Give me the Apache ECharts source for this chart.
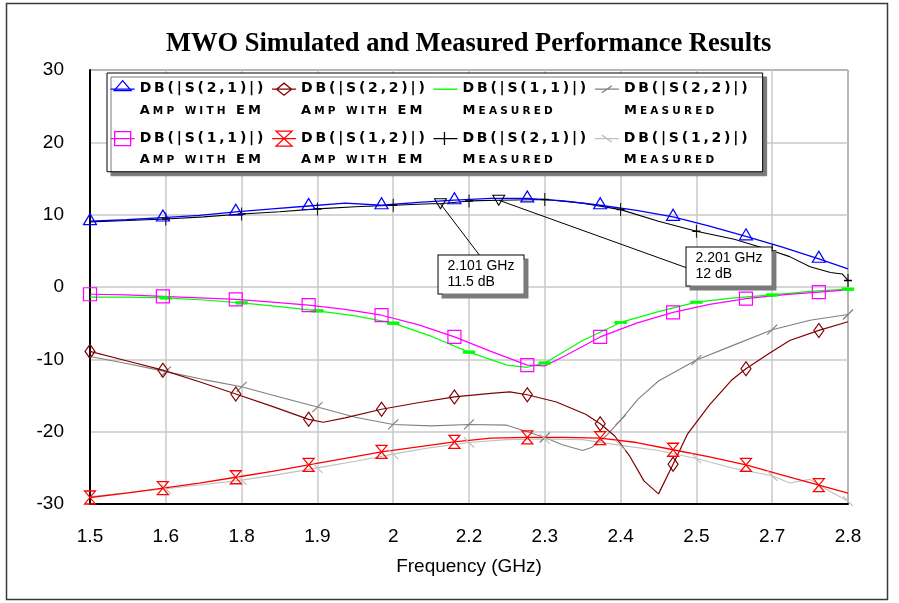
<!DOCTYPE html>
<html><head><meta charset="utf-8">
<script src="https://cdn.jsdelivr.net/npm/echarts@6/dist/echarts.min.js"></script>
<style>html,body{margin:0;padding:0;background:#fff}#c{width:899px;height:603px}</style>
</head><body><div id="c"></div>
<script>
// ---------- data ----------
const xTickLabels = ['1.5','1.6','1.8','1.9','2','2.2','2.3','2.4','2.5','2.7','2.8'];
const simMarkerFreqs = [1.5,1.625,1.75,1.875,2.0,2.125,2.25,2.375,2.5,2.625,2.75];
const measMarkerFreqs = [1.63,1.76,1.89,2.02,2.15,2.28,2.41,2.54,2.67,2.8];

const fSim = [1.5,1.5625,1.625,1.6875,1.75,1.8125,1.875,1.9375,2.0,2.0625,2.125,2.1875,2.25,2.3125,2.375,2.4375,2.5,2.5625,2.625,2.6875,2.75,2.8];
const s21Sim = [9.1,9.3,9.6,9.9,10.4,10.8,11.2,11.6,11.3,11.7,12.0,12.25,12.25,11.9,11.3,10.6,9.7,8.4,7.0,5.5,3.9,2.5];
const s12Sim = [-29.1,-28.5,-27.8,-27.1,-26.3,-25.5,-24.6,-23.7,-22.8,-22.1,-21.4,-20.9,-20.8,-20.8,-20.9,-21.5,-22.5,-23.5,-24.6,-26.0,-27.4,-28.5];

const fS11Sim = [1.5,1.5625,1.625,1.6875,1.75,1.8125,1.875,1.9375,2.0,2.0625,2.125,2.1875,2.25,2.28,2.3125,2.375,2.4375,2.5,2.5625,2.625,2.6875,2.75,2.8];
const s11Sim = [-1.0,-1.1,-1.3,-1.5,-1.7,-2.1,-2.5,-3.1,-3.9,-5.2,-6.9,-8.9,-10.8,-10.9,-9.6,-6.9,-5.0,-3.5,-2.4,-1.6,-1.1,-0.7,-0.4];

const fS22Sim = [1.5,1.5625,1.625,1.6875,1.75,1.8125,1.875,1.9,1.9375,2.0,2.0625,2.125,2.1875,2.22,2.25,2.3,2.35,2.375,2.4,2.425,2.45,2.475,2.5,2.525,2.5625,2.6,2.625,2.6625,2.7,2.75,2.8];
const s22Sim = [-8.9,-10.2,-11.5,-13.1,-14.8,-16.5,-18.3,-18.7,-18.1,-16.9,-16.0,-15.2,-14.7,-14.5,-14.9,-15.9,-17.6,-18.9,-20.6,-23.3,-26.8,-28.6,-24.5,-20.3,-16.3,-12.9,-11.3,-9.3,-7.4,-6.0,-4.8];

const fS21Meas = [1.5,1.565,1.63,1.695,1.76,1.825,1.89,1.955,2.02,2.085,2.101,2.15,2.201,2.28,2.345,2.41,2.475,2.54,2.605,2.67,2.70,2.735,2.77,2.79,2.8];
const s21Meas = [9.0,9.2,9.4,9.7,10.1,10.4,10.8,11.1,11.3,11.5,11.5,11.9,12.0,12.1,11.6,10.7,9.1,7.7,6.6,5.0,4.2,2.8,2.0,1.8,0.9];

const fS11Meas = [1.5,1.565,1.63,1.695,1.76,1.825,1.89,1.955,2.02,2.085,2.15,2.215,2.25,2.28,2.345,2.41,2.475,2.54,2.605,2.67,2.735,2.8];
const s11Meas = [-1.4,-1.4,-1.5,-1.8,-2.2,-2.7,-3.3,-4.0,-5.0,-6.8,-9.0,-10.8,-11.1,-10.5,-7.4,-4.9,-3.4,-2.1,-1.5,-1.1,-0.6,-0.3];

const fS22Meas = [1.5,1.565,1.63,1.695,1.76,1.825,1.89,1.955,2.02,2.085,2.15,2.215,2.28,2.31,2.345,2.36,2.385,2.41,2.44,2.475,2.54,2.605,2.67,2.735,2.8];
const s22Meas = [-9.6,-10.6,-11.7,-12.8,-13.8,-15.2,-16.6,-18.0,-19.0,-19.2,-19.0,-19.1,-20.8,-21.8,-22.6,-22.2,-20.6,-18.4,-15.5,-13.0,-10.1,-8.0,-5.9,-4.6,-3.8];

const fS12Meas = [1.5,1.565,1.63,1.695,1.76,1.825,1.89,1.955,2.02,2.085,2.15,2.215,2.28,2.345,2.41,2.475,2.54,2.605,2.67,2.70,2.735,2.77,2.8];
const s12Meas = [-29.0,-28.4,-27.9,-27.3,-26.7,-25.9,-25.0,-24.1,-23.1,-22.2,-21.5,-21.1,-21.0,-21.1,-21.9,-22.6,-23.7,-25.1,-26.1,-27.1,-26.6,-28.3,-29.6];

const markerFreqs = [2.101, 2.201];
const markerValues = [11.5, 12];
const markerLabels = ['2.101 GHz\n11.5 dB', '2.201 GHz\n12 dB'];

// ---------- helpers ----------
function build(fs, vs, marks) {
  return fs.map((f, i) => {
    const isM = marks.some(m => Math.abs(m - f) < 1e-6);
    return isM ? {value: [f, vs[i]]} : {value: [f, vs[i]], symbol: 'none'};
  });
}
const box = (p) => 'path://M0,0L0,0' + p + 'M24,40L24,40';
const LN = 'M0,11.5L24,11.5';

const seriesDefs = [
  {name:'S21m', l1:'DB(|S(2,1)|)', l2:'Measured', f:fS21Meas, v:s21Meas, marks:measMarkerFreqs, color:'#000000',
   symbol:'path://M5,0L5,14M0,7L10,7', size:[8,13], offset:[0,0], lw:1.1, fill:'transparent', icon: box(LN+'M11,5L11,18')},
  {name:'S22m', l1:'DB(|S(2,2)|)', l2:'Measured', f:fS22Meas, v:s22Meas, marks:measMarkerFreqs, color:'#808080',
   symbol:'path://M0,10L10,0', size:[10,10], offset:[0,0], lw:1.1, fill:'transparent', icon: box(LN+'M7,15L17,8')},
  {name:'S12m', l1:'DB(|S(1,2)|)', l2:'Measured', f:fS12Meas, v:s12Meas, marks:measMarkerFreqs, color:'#c0c0c0',
   symbol:'path://M0,0L10,10', size:[10,10], offset:[0,0], lw:1.1, fill:'transparent', icon: box(LN+'M7,8L17,15')},
  {name:'S11m', l1:'DB(|S(1,1)|)', l2:'Measured', f:fS11Meas, v:s11Meas, marks:measMarkerFreqs, color:'#00ff00',
   symbol:'path://M0,4L10,4L10,6L0,6Z', size:[10,2.5], offset:[0,0], lw:1.2, fill:'#00ff00', icon: box(LN)},
  {name:'S22s', l1:'DB(|S(2,2)|)', l2:'Amp with EM', f:fS22Sim, v:s22Sim, marks:simMarkerFreqs, color:'#800000',
   symbol:'path://M5,0L10,7L5,14L0,7Z', size:[10,14], offset:[0,0], lw:1.2, fill:'transparent', icon: box(LN+'M4.5,11.5L12,5.5L19.5,11.5L12,17.5Z')},
  {name:'S12s', l1:'DB(|S(1,2)|)', l2:'Amp with EM', f:fSim, v:s12Sim, marks:simMarkerFreqs, color:'#ff0000',
   symbol:'path://M0,0L10,0L0,13L10,13Z', size:[11,13], offset:[0,0], lw:1.3, fill:'transparent', icon: box(LN+'M4,4L20,4L4,19L20,19Z')},
  {name:'S11s', l1:'DB(|S(1,1)|)', l2:'Amp with EM', f:fS11Sim, v:s11Sim, marks:simMarkerFreqs, color:'#ff00ff',
   symbol:'path://M0,0L12,0L12,12L0,12Z', size:[13,13], offset:[0,0], lw:1.2, fill:'transparent', icon: box(LN+'M4,4.5L20,4.5L20,18.5L4,18.5Z')},
  {name:'S21s', l1:'DB(|S(2,1)|)', l2:'Amp with EM', f:fSim, v:s21Sim, marks:simMarkerFreqs, color:'#0000ff',
   symbol:'path://M6,0L12,10L0,10Z', size:[13,11], offset:[0,-2], lw:1.3, fill:'transparent', icon: box(LN+'M3.5,13L12,3L20.5,13Z')}
];
const legendOrder = ['S21s','S22s','S11m','S22m','S11s','S12s','S21m','S12m'];
const byName = {}; seriesDefs.forEach(d => byName[d.name] = d);

function spaced(s, sep) { return Array.from(s).join(sep); }
function smallCaps(str) {
  return str.split(' ').map(w => Array.from(w).map(ch => {
    const big = ch === ch.toUpperCase();
    return '{' + (big ? 'b' : 's') + '|' + ch.toUpperCase() + '}';
  }).join('{s|\u2009\u200A}')).join('{s|\u2002\u2002}');
}

const series = seriesDefs.map(d => {
  const s = {
    name: d.name, type: 'line', data: build(d.f, d.v, d.marks),
    symbol: d.symbol, symbolSize: d.size, symbolOffset: d.offset, showAllSymbol: true,
    lineStyle: {color: d.color, width: d.lw},
    itemStyle: {color: d.fill, borderColor: d.color, borderWidth: 1.2},
    emphasis: {disabled: true}, silent: true, animation: false
  };
  if (d.name === 'S21m') {
    s.markLine = {
      silent: true, symbol: ['none','none'], animation: false,
      lineStyle: {color: '#000', width: 1, type: 'solid'}, label: {show: false},
      data: [
        [{coord: [markerFreqs[0], markerValues[0]]}, {coord: [2.169, 4.29]}],
        [{coord: [markerFreqs[1], markerValues[1]]}, {coord: [2.524, 2.63]}]
      ]
    };
    const boxLabel = {
      show: true, position: [0, 0], color: '#000', fontSize: 14, fontFamily: 'Liberation Sans',
      lineHeight: 16, backgroundColor: '#fff', borderColor: '#000', borderWidth: 1,
      padding: [3, 9, 3, 9], shadowColor: '#7a7a7a', shadowOffsetX: 4, shadowOffsetY: 4, shadowBlur: 0
    };
    s.markPoint = {
      silent: true, animation: false,
      data: [
        {coord: [markerFreqs[0], markerValues[0]], symbol: 'path://M0,0L10,0L5,9Z', symbolSize: [12, 10],
         itemStyle: {color: 'transparent', borderColor: '#000', borderWidth: 1}, label: {show: false}},
        {coord: [markerFreqs[1], markerValues[1]], symbol: 'path://M0,0L10,0L5,9Z', symbolSize: [12, 10],
         itemStyle: {color: 'transparent', borderColor: '#000', borderWidth: 1}, label: {show: false}},
        {coord: [2.0986, 4.29], symbol: 'circle', symbolSize: 1, itemStyle: {color: 'transparent', borderWidth: 0},
         label: Object.assign({formatter: markerLabels[0]}, boxLabel)},
        {coord: [2.5239, 5.39], symbol: 'circle', symbolSize: 1, itemStyle: {color: 'transparent', borderWidth: 0},
         label: Object.assign({formatter: markerLabels[1]}, boxLabel)}
      ]
    };
  }
  return s;
});

const legendData = legendOrder.map(n => {
  const d = byName[n];
  return {name: n, icon: d.icon,
    itemStyle: {color: 'transparent', borderColor: d.color, borderWidth: d.name === 'S11m' ? 1.4 : 1.3},
    lineStyle: {color: d.color, width: 1.3}};
});

const lblFont = 'DejaVu Sans';
const option = {
  animation: false,
  backgroundColor: '#fff',
  title: {
    text: 'MWO Simulated and Measured Performance Results',
    left: 161, top: 26,
    textStyle: {fontFamily: 'Liberation Serif', fontWeight: 'bold', fontSize: 26.5, color: '#000'}
  },
  grid: {left: 90, right: 51, top: 70, bottom: 99, show: true, borderColor: '#000', borderWidth: 1, backgroundColor: '#fff'},
  xAxis: {
    type: 'value', min: 1.5, max: 2.8, interval: 0.13,
    axisLine: {show: true, onZero: false, lineStyle: {color: '#000', width: 2}},
    axisTick: {show: false},
    splitLine: {show: true, lineStyle: {color: '#c8c8c8', width: 1.5}},
    axisLabel: {formatter: (v, i) => xTickLabels[i], fontSize: 19, color: '#000', margin: 23, fontFamily: 'Liberation Sans'},
    name: 'Frequency (GHz)', nameLocation: 'middle', nameGap: 53,
    nameTextStyle: {fontSize: 19, color: '#000', fontFamily: 'Liberation Sans'}
  },
  yAxis: {
    type: 'value', min: -30, max: 30, interval: 10,
    axisLine: {show: true, onZero: false, lineStyle: {color: '#000', width: 2}},
    axisTick: {show: false},
    splitLine: {show: true, lineStyle: {color: '#c8c8c8', width: 1.5}},
    axisLabel: {fontSize: 19, color: '#000', margin: 26, fontFamily: 'Liberation Sans'}
  },
  legend: {
    data: legendData, selectedMode: false,
    left: 107, top: 73, width: 700, orient: 'horizontal',
    itemWidth: 24, itemHeight: 40, itemGap: 8,
    padding: [4, 15, 4, 3],
    backgroundColor: '#fff', borderColor: '#000', borderWidth: 1,
    shadowColor: '#7a7a7a', shadowOffsetX: 4, shadowOffsetY: 4, shadowBlur: 0,
    formatter: n => {
      const d = byName[n];
      return '{t|' + spaced(d.l1, '\u2009') + '}\n' + smallCaps(d.l2);
    },
    textStyle: {
      width: 128, color: '#000',
      rich: {
        t: {fontSize: 14, fontWeight: 'bold', fontFamily: lblFont, lineHeight: 20, color: '#000'},
        b: {fontSize: 13, fontWeight: 'bold', fontFamily: lblFont, lineHeight: 18, verticalAlign: 'bottom', color: '#000'},
        s: {fontSize: 10.5, fontWeight: 'bold', fontFamily: lblFont, lineHeight: 18, verticalAlign: 'bottom', color: '#000'}
      }
    }
  },
  graphic: [{
    type: 'rect', silent: true, z: 100,
    shape: {x: 6.5, y: 3.5, width: 881, height: 596},
    style: {fill: 'none', stroke: '#3a3a3a', lineWidth: 1.5}
  }],
  series: series
};
const chart = echarts.init(document.getElementById('c'), null, {renderer: 'canvas'});
chart.setOption(option);
</script>
</body></html>
